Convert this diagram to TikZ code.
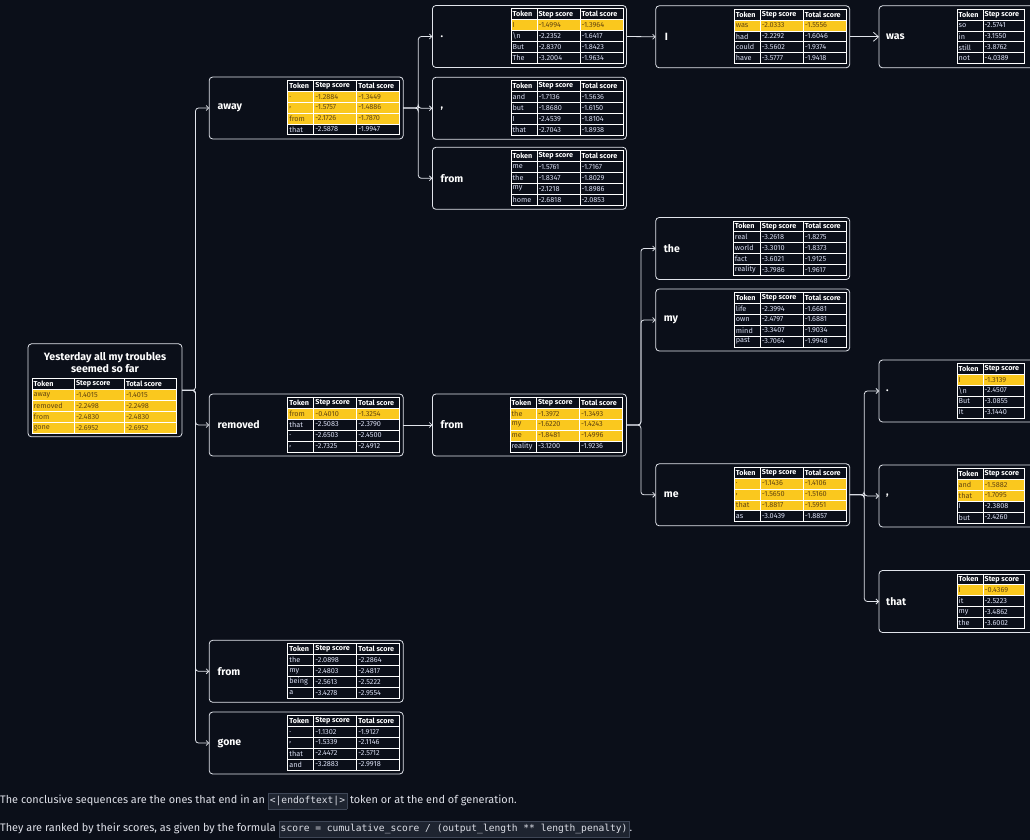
\documentclass[tikz,border=0pt]{standalone}
\usepackage{fontspec}
\setmainfont{Fira Sans}
\setmonofont{DejaVu Sans Mono}
\usetikzlibrary{arrows.meta}
\definecolor{bgc}{RGB}{11,15,25}
\definecolor{boxline}{RGB}{225,228,235}
\definecolor{hy}{RGB}{250,200,30}
\definecolor{hyt}{RGB}{100,70,15}
\definecolor{nb}{RGB}{11,15,25}
\definecolor{nbt}{RGB}{215,220,240}
\definecolor{codebg}{RGB}{30,36,48}
\definecolor{codeline}{RGB}{62,70,86}
\definecolor{bodytext}{RGB}{222,224,232}
\newcommand\codebit[1]{{\setlength\fboxsep{1.6pt}\setlength\fboxrule{0.5pt}\fcolorbox{codeline}{codebg}{\strut\ttfamily\fontsize{9.6}{11}\selectfont #1}}}
\newcommand\scoretab[7]{%
\begin{scope}[shift={(#1.north west)},shift={(#2,#3)}]
 \node[hcell] at (1.5,\rh/2) {Token};
 \node[hcell] at (#4+1.5,\rh/2) {Step score};
 \ifdim #6pt>0pt\relax \node[hcell] at (#4+#5+1.5,\rh/2) {Total score};\fi
 \foreach \rf/\rt/\ra/\rb/\rc [count=\i] in {#7}{%
   \pgfmathsetmacro\yy{\i*\rh}%
   \fill[\rf] (0,\yy) rectangle (#4+#5+#6,\yy+\rh);%
   \node[tcell,text=\rt] at (1.5,\yy+\rh/2) {\ra};%
   \node[tcell,text=\rt] at (#4+1.5,\yy+\rh/2) {\rb};%
   \ifdim #6pt>0pt\relax \node[tcell,text=\rt] at (#4+#5+1.5,\yy+\rh/2) {\rc};\fi
 }
 \pgfmathsetmacro\th{5*\rh}
 \draw[tline] (0,0) rectangle (#4+#5+#6,\th);
 \foreach \k in {1,...,4} \draw[tline] (0,\k*\rh) -- (#4+#5+#6,\k*\rh);
 \draw[tline] (#4,0) -- (#4,\th);
 \ifdim #6pt>0pt\relax \draw[tline] (#4+#5,0) -- (#4+#5,\th);\fi
\end{scope}}
\begin{document}
\begin{tikzpicture}[x=1pt,y=-1pt,
  box/.style={draw=boxline, line width=0.8pt, rounded corners=3.5pt, inner sep=0pt, outer sep=0pt, minimum width=194, minimum height=62},
  lbl/.style={anchor=west, inner sep=0pt, text=white, font=\bfseries\fontsize{10.5}{12}\selectfont},
  hcell/.style={anchor=west, inner sep=0pt, text=white, font=\bfseries\fontsize{7.2}{8}\selectfont},
  tcell/.style={anchor=west, inner sep=0pt, font=\fontsize{7.3}{8}\selectfont},
  tline/.style={draw=white, line width=0.6pt},
  conn/.style={draw=boxline, line width=0.8pt, rounded corners=3pt, -{Straight Barb[length=2.5pt,width=5pt]}},
  bigtip/.style={-{Straight Barb[length=5pt,width=9pt]}},
  body/.style={anchor=west, inner sep=0pt, text=bodytext, font=\fontsize{10.9}{12}\selectfont}]
\useasboundingbox (0,0) rectangle (1030,840);
\fill[bgc] (0,0) rectangle (1030,840);
\clip (0,0) rectangle (1030,840);

% ---------- boxes ----------
\node[box, minimum width=154, minimum height=93] (root) at (105,390.3) {};
\node[box] (away) at (306.2,108) {};
\node[box] (removed) at (306.2,425) {};
\node[box] (from1) at (306.2,671.3) {};
\node[box] (gone) at (306.2,743) {};
\node[box] (dot2) at (529.4,36.5) {};
\node[box] (com2) at (529.4,108.3) {};
\node[box] (from2a) at (529.4,178.3) {};
\node[box] (from2b) at (529.4,425) {};
\node[box] (I3) at (752.7,36.8) {};
\node[box] (the3) at (752.7,248.5) {};
\node[box] (my3) at (752.7,320) {};
\node[box] (me3) at (752.7,494.8) {};
\node[box] (was4) at (976,36.8) {};
\node[box] (dot4) at (976,391) {};
\node[box] (com4) at (976,496) {};
\node[box] (that4) at (976,601.5) {};

% ---------- labels ----------
\node[inner sep=0pt, text=white, align=center, font=\bfseries\fontsize{10.6}{11.8}\selectfont] (title) at (105,362.8) {Yesterday all my troubles\\seemed so far};
\node[lbl] (l-away) at ([xshift=8.3pt]away.west) {away};
\node[lbl] (l-removed) at ([xshift=8.3pt]removed.west) {removed};
\node[lbl] (l-from1) at ([xshift=8.3pt]from1.west) {from};
\node[lbl] (l-gone) at ([xshift=8.3pt]gone.west) {gone};
\node[lbl] (l-dot2) at ([xshift=8pt]dot2.west) {.};
\node[lbl] (l-com2) at ([xshift=8pt]com2.west) {,};
\node[lbl] (l-from2a) at ([xshift=8pt]from2a.west) {from};
\node[lbl] (l-from2b) at ([xshift=8pt]from2b.west) {from};
\node[lbl] (l-I3) at ([xshift=9pt]I3.west) {I};
\node[lbl] (l-the3) at ([xshift=8pt]the3.west) {the};
\node[lbl] (l-my3) at ([xshift=8pt]my3.west) {my};
\node[lbl] (l-me3) at ([xshift=8pt]me3.west) {me};
\node[lbl] (l-was4) at ([xshift=7pt]was4.west) {was};
\node[lbl] (l-dot4) at ([xshift=7pt]dot4.west) {.};
\node[lbl] (l-com4) at ([xshift=7pt]com4.west) {,};
\node[lbl] (l-that4) at ([xshift=7pt]that4.west) {that};

% ---------- tables ----------
\def\rh{11}
\scoretab{root}{4}{34.8}{42.3}{50}{51.7}{hy/hyt/away/-1.4015/-1.4015, hy/hyt/removed/-2.2498/-2.2498, hy/hyt/from/-2.4830/-2.4830, hy/hyt/gone/-2.6952/-2.6952}
\def\rh{10.9}
\scoretab{away}{78.5}{3.3}{26}{43}{43}{hy/hyt/./-1.2884/-1.3449, hy/hyt/{,}/-1.5757/-1.4886, hy/hyt/from/-2.1726/-1.7870, nb/nbt/that/-2.5878/-1.9947}
\scoretab{removed}{78.5}{3.3}{26}{43}{43}{hy/hyt/from/-0.4010/-1.3254, nb/nbt/that/-2.5083/-2.3790, nb/nbt/./-2.6503/-2.4500, nb/nbt/{,}/-2.7325/-2.4912}
\scoretab{from1}{78.5}{3.3}{26}{43}{43}{nb/nbt/the/-2.0898/-2.2864, nb/nbt/my/-2.4803/-2.4817, nb/nbt/being/-2.5613/-2.5222, nb/nbt/a/-3.4278/-2.9554}
\scoretab{gone}{78.5}{3.3}{26}{43}{43}{nb/nbt/./-1.1302/-1.9127, nb/nbt/{,}/-1.5339/-2.1146, nb/nbt/that/-2.4472/-2.5712, nb/nbt/and/-3.2883/-2.9918}
\scoretab{dot2}{78.5}{3.3}{26}{43}{43}{hy/hyt/I/-1.4994/-1.3964, nb/nbt/\textbackslash n/-2.2352/-1.6417, nb/nbt/But/-2.8370/-1.8423, nb/nbt/The/-3.2004/-1.9634}
\scoretab{com2}{78.5}{3.3}{26}{43}{43}{nb/nbt/and/-1.7136/-1.5636, nb/nbt/but/-1.8680/-1.6150, nb/nbt/I/-2.4539/-1.8104, nb/nbt/that/-2.7043/-1.8938}
\scoretab{from2a}{78.5}{3.3}{26}{43}{43}{nb/nbt/me/-1.5761/-1.7167, nb/nbt/the/-1.8347/-1.8029, nb/nbt/my/-2.1218/-1.8986, nb/nbt/home/-2.6818/-2.0853}
\scoretab{from2b}{77.5}{3.3}{26.5}{43}{43}{hy/hyt/the/-1.3972/-1.3493, hy/hyt/my/-1.6220/-1.4243, hy/hyt/me/-1.8481/-1.4996, nb/nbt/reality/-3.1200/-1.9236}
\scoretab{I3}{78.5}{3.3}{26}{43}{43}{hy/hyt/was/-2.0333/-1.5556, nb/nbt/had/-2.2292/-1.6046, nb/nbt/could/-3.5602/-1.9374, nb/nbt/have/-3.5777/-1.9418}
\scoretab{the3}{77.5}{3.3}{27}{43}{43}{nb/nbt/real/-3.2618/-1.8275, nb/nbt/world/-3.3010/-1.8373, nb/nbt/fact/-3.6021/-1.9125, nb/nbt/reality/-3.7986/-1.9617}
\scoretab{my3}{78.5}{3.3}{26}{43}{43}{nb/nbt/life/-2.3994/-1.6681, nb/nbt/own/-2.4797/-1.6881, nb/nbt/mind/-3.3407/-1.9034, nb/nbt/past/-3.7064/-1.9948}
\scoretab{me3}{78.5}{3.3}{26}{43}{43}{hy/hyt/./-1.1436/-1.4106, hy/hyt/{,}/-1.5650/-1.5160, hy/hyt/that/-1.8817/-1.5951, nb/nbt/as/-3.0439/-1.8857}
\scoretab{was4}{78}{3.3}{26}{41}{0}{nb/nbt/so/-2.5741/{}, nb/nbt/in/-3.1550/{}, nb/nbt/still/-3.8762/{}, nb/nbt/not/-4.0389/{}}
\scoretab{dot4}{78}{3.3}{26}{41}{0}{hy/hyt/I/-1.3139/{}, nb/nbt/\textbackslash n/-2.4507/{}, nb/nbt/But/-3.0855/{}, nb/nbt/It/-3.1440/{}}
\scoretab{com4}{78}{3.3}{26}{41}{0}{hy/hyt/and/-1.5882/{}, hy/hyt/that/-1.7095/{}, nb/nbt/I/-2.3808/{}, nb/nbt/but/-2.4260/{}}
\scoretab{that4}{78}{3.3}{26}{41}{0}{hy/hyt/I/-0.4369/{}, nb/nbt/it/-2.5223/{}, nb/nbt/my/-3.4862/{}, nb/nbt/the/-3.6002/{}}

% ---------- connectors ----------
\coordinate (s1) at (195.5,0);
\coordinate (s2) at (418.3,0);
\coordinate (s3) at (640.9,0);
\coordinate (s4) at (864.3,0);
\foreach \t in {away,removed,from1,gone}
  \draw[conn] (root.east) -- (s1 |- root.east) |- (\t.west);
\foreach \t in {dot2,com2,from2a}
  \draw[conn] (away.east) -- (s2 |- away.east) |- (\t.west);
\draw[conn] (removed.east) -- (from2b.west);
\draw[conn] (dot2.east) -- (I3.west);
\foreach \t in {the3,my3,me3}
  \draw[conn] (from2b.east) -- (s3 |- from2b.east) |- (\t.west);
\draw[conn,bigtip] (I3.east) -- (was4.west);
\foreach \t in {dot4,com4,that4}
  \draw[conn] (me3.east) -- (s4 |- me3.east) |- (\t.west);

% ---------- footnote text ----------
\node[body] (line1) at (0,801) {The conclusive sequences are the ones that end in an \codebit{<|endoftext|>} token or at the end of generation.};
\node[body] (line2) at (0,829) {They are ranked by their scores, as given by the formula \codebit{score = cumulative\_score / (output\_length ** length\_penalty)}.};
\end{tikzpicture}
\end{document}
